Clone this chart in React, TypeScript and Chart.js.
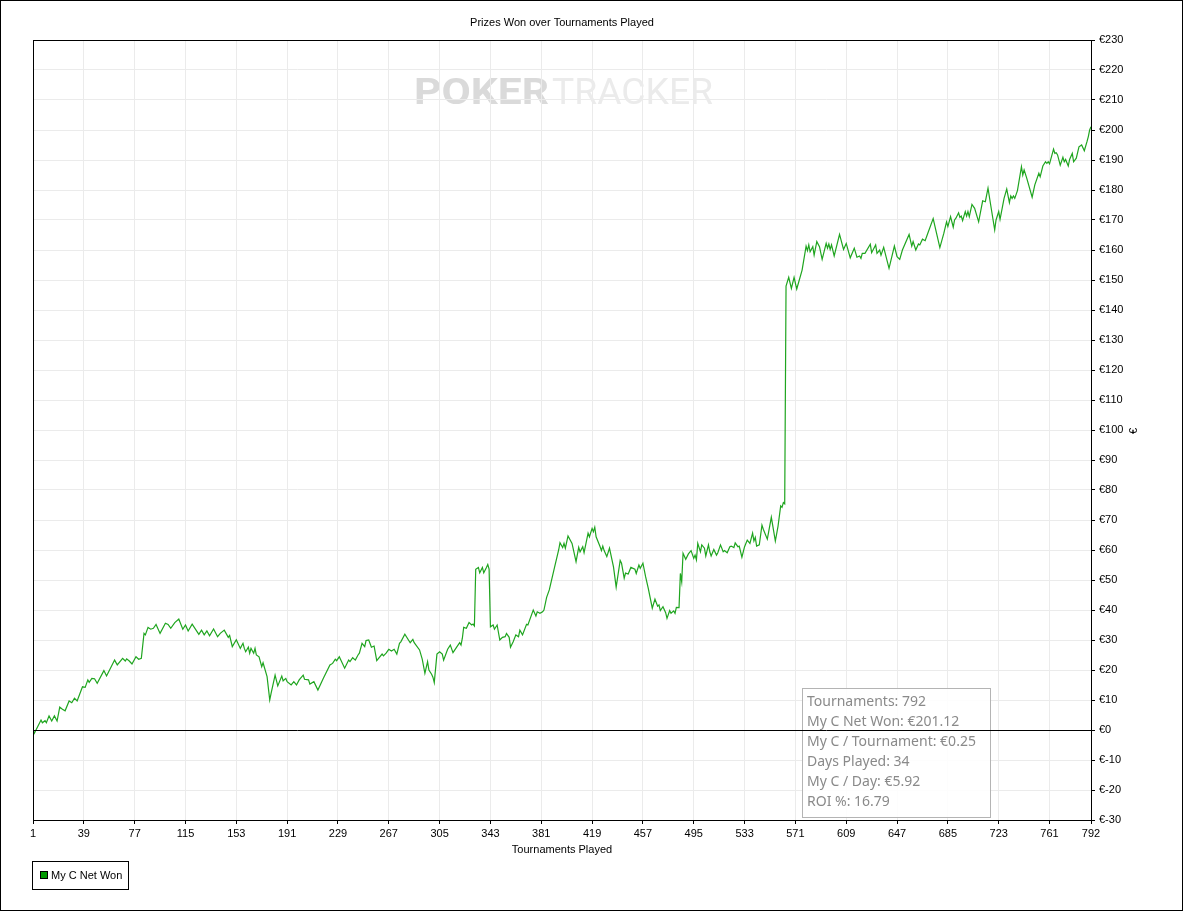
import React, { useEffect, useRef } from 'react';
import { Chart, registerables } from 'chart.js';

Chart.register(...registerables);

const chartTitle = 'Prizes Won over Tournaments Played';
const xAxisTitle = 'Tournaments Played';
const yAxisTitle = '€';
const seriesLabel = 'My C Net Won';
const currency = '€';

const xTickValues = [1, 39, 77, 115, 153, 191, 229, 267, 305, 343, 381, 419, 457, 495, 533, 571, 609, 647, 685, 723, 761, 792];
const yMin = -30;
const yMax = 230;
const yStep = 10;

const statsLines = [
  'Tournaments: 792',
  'My C Net Won: €201.12',
  'My C / Tournament: €0.25',
  'Days Played: 34',
  'My C / Day: €5.92',
  'ROI %: 16.79',
];

// [tournament number, cumulative net won in €]
const netWonEarly: [number, number][] = [
  [1, 0], [2, -1.1], [7, 3.3], [8, 2.4], [10, 3.1], [11, 2.4], [13, 4.7], [15, 3.0], [17, 4.7], [19, 3.0],
  [21, 7.6], [23, 6.9], [25, 6.4], [28, 9.7], [30, 9.1], [32, 10.6], [34, 9.7], [38, 14.4], [40, 14.2], [42, 16.7],
  [43, 15.9], [45, 17.2], [47, 17.1], [49, 15.6], [54, 19.8], [56, 18.0], [62, 23.3], [64, 21.7], [68, 23.9], [70, 23.0],
  [71, 23.7], [73, 23.0], [75, 22.0], [78, 24.4], [80, 23.6], [82, 23.9], [84, 32.2], [85, 31.7], [87, 34.2], [89, 33.6],
  [91, 33.9], [93, 35.2], [96, 32.2], [100, 35.6], [102, 35.2], [104, 33.9], [107, 35.8], [110, 37.0], [113, 33.6], [115, 35.0],
  [117, 33.0], [120, 35.3], [125, 31.9], [127, 33.3], [129, 31.7], [131, 33.0], [133, 31.4], [136, 33.7], [139, 31.1], [141, 32.2],
  [144, 33.3], [147, 30.9],
];

const netWonSecond: [number, number][] = [
  [148, 31.5], [150, 27.8], [153, 30.1], [156, 27.2], [158, 28.9], [159, 27.2], [160, 26.1], [162, 27.6], [163, 25.6], [164, 27.2],
  [166, 25.6], [167, 27.2], [168, 25.0], [170, 24.4], [172, 21.1], [173, 22.4], [176, 17.8], [178, 10.0], [179, 12.2], [182, 18.3],
  [184, 14.7], [187, 18.0], [188, 16.4], [190, 17.2], [191, 16.1], [194, 15.0], [196, 16.1], [198, 15.0], [200, 16.7], [203, 18.3],
  [204, 16.9], [207, 16.7], [208, 15.3], [211, 16.1], [214, 13.3], [218, 17.2], [223, 21.7], [225, 22.2], [227, 23.6], [228, 23.1],
  [230, 24.4], [234, 20.6], [237, 23.3], [238, 22.8], [240, 24.1], [242, 23.3], [244, 25.0], [245, 25.6], [247, 28.9], [249, 27.8],
  [250, 29.8], [252, 30.0], [254, 27.6], [256, 28.0], [258, 23.1], [262, 25.3], [263, 24.7], [265, 25.6], [267, 26.9], [269, 26.3],
  [271, 26.9], [273, 25.3], [275, 28.9], [276, 29.4], [279, 31.9], [283, 29.1], [285, 30.2], [286, 29.1], [290, 26.7], [292, 23.6],
  [294, 18.9], [296, 22.8], [297, 20.0], [299, 18.6], [300, 17.6], [301, 15.8], [303, 25.3], [305, 26.1], [307, 25.3], [308, 23.3],
  [311, 26.9], [313, 28.3], [315, 25.8], [318, 27.8], [320, 29.1], [321, 28.3], [322, 30.6], [323, 34.2], [325, 33.9], [327, 35.8],
  [329, 35.0], [330, 35.3], [331, 34.7],
];

const netWonThird: [number, number][] = [
  [332, 53.6], [334, 54.2], [335, 52.4], [337, 54.2], [338, 52.4], [340, 54.2], [341, 55.2], [342, 53.6], [343, 34.4], [345, 35.0],
  [346, 33.6], [348, 35.0], [350, 30.0], [352, 30.9], [354, 31.1], [355, 32.2], [357, 30.9], [358, 27.6], [360, 29.4], [362, 31.7],
  [364, 31.1], [365, 33.3], [367, 31.7], [370, 35.2], [371, 35.0], [375, 40.0], [377, 38.0], [378, 39.4], [380, 38.9], [382, 39.4],
  [383, 40.0], [385, 44.2], [387, 46.7], [391, 54.4], [394, 60.0], [395, 62.4], [397, 60.8], [398, 62.2], [399, 60.6], [401, 64.7],
  [404, 62.2], [407, 56.1], [409, 60.9], [410, 59.4], [412, 61.1], [413, 59.1], [416, 65.6], [417, 64.4], [419, 67.2], [420, 66.1],
  [421, 67.6], [422, 64.4], [425, 61.1], [426, 59.8], [427, 61.3], [428, 59.8], [430, 57.8], [432, 60.6], [435, 54.4], [437, 47.6],
  [440, 56.5], [441, 55.6], [443, 50.6], [444, 52.3], [446, 52.0], [448, 54.2], [451, 53.6], [452, 52.2], [454, 55.0], [455, 53.9],
  [457, 55.6], [459, 51.1], [461, 47.2], [464, 40.6], [466, 43.6], [468, 41.3], [469, 41.7], [470, 39.8], [472, 41.1], [474, 39.1],
  [475, 37.2], [477, 39.8], [478, 38.9], [480, 39.7], [481, 38.9], [482, 40.9], [484, 40.8], [485, 52.2], [486, 49.4], [487, 58.9],
  [489, 56.9], [491, 58.7], [493, 59.8], [495, 57.2], [496, 58.3], [497, 56.7], [498, 62.2], [500, 59.4], [501, 61.7], [503, 60.6],
  [504, 58.0], [506, 61.7], [507, 59.4], [508, 58.0], [510, 60.2], [512, 58.3], [513, 59.1], [515, 61.7], [517, 59.4], [518, 59.8],
  [520, 59.1], [522, 61.1], [523, 61.3], [525, 60.8], [526, 62.4], [528, 61.1], [529, 61.3], [531, 57.6], [533, 61.1], [535, 63.3],
  [537, 62.2], [539, 65.6], [540, 63.0], [541, 64.2], [542, 61.3], [544, 61.7], [546, 68.3], [547, 66.9], [550, 63.6], [553, 70.9],
  [554, 68.3], [556, 63.0], [558, 67.9], [560, 74.7], [561, 74.2], [562, 75.8], [563, 75.4],
];

const netWonLate: [number, number][] = [
  [564, 148.0], [566, 150.9], [568, 147.2], [570, 150.9], [572, 147.0], [576, 153.3], [579, 161.3], [580, 159.8], [581, 161.7], [582, 159.4],
  [584, 161.1], [585, 158.3], [587, 162.8], [589, 161.1], [591, 156.9], [594, 162.2], [595, 160.6], [596, 162.0], [597, 160.2], [598, 161.7],
  [600, 158.0], [604, 165.2], [607, 160.2], [609, 162.2], [612, 157.4], [615, 160.6], [617, 157.6], [619, 158.0], [620, 157.2], [621, 158.9],
  [623, 158.9], [627, 161.9], [628, 159.1], [631, 161.7], [632, 158.9], [634, 160.0], [635, 158.3], [637, 160.9], [641, 153.9], [645, 161.3],
  [647, 157.8], [649, 156.9], [651, 160.0], [656, 165.2], [658, 161.3], [659, 162.8], [661, 160.0], [663, 162.0], [664, 161.7], [666, 163.6],
  [668, 163.1], [670, 165.6], [674, 170.5], [679, 160.8], [682, 165.6], [684, 169.4], [685, 167.8], [687, 171.1], [689, 167.6], [690, 170.0],
  [691, 170.6], [693, 172.4], [694, 170.9], [695, 171.3], [696, 169.8], [698, 172.8], [699, 171.3], [700, 172.8], [701, 171.1], [703, 175.2],
  [705, 173.9], [708, 169.4], [711, 176.4], [713, 176.1], [715, 180.6], [717, 175.0], [720, 166.7], [721, 170.0], [723, 172.8], [724, 170.2],
  [727, 177.2], [729, 180.3], [731, 175.8], [732, 178.0], [733, 177.2], [734, 178.0], [735, 177.2], [737, 179.8], [740, 187.8], [741, 185.0],
  [742, 186.7], [744, 183.9], [748, 177.6], [750, 181.7], [753, 185.6], [754, 184.4], [756, 188.0], [758, 189.4], [759, 188.9], [760, 189.4],
  [761, 188.7], [764, 193.6], [765, 192.2], [766, 192.4], [767, 191.7], [769, 188.3], [771, 190.9], [772, 189.4], [773, 190.2], [775, 188.0],
  [776, 190.2], [778, 192.2], [779, 189.4], [781, 190.6], [783, 194.4], [785, 195.0], [787, 193.1], [789, 196.1], [790, 197.8], [791, 200.0],
  [792, 201.12],
];

const LINE_COLOR = '#1fa51f';
const LEGEND_COLOR = '#009900';
const GRID_COLOR = '#ebebeb';
const UI_FONT = '"Liberation Sans", Arial, sans-serif';

function drawFitted(ctx: CanvasRenderingContext2D, text: string, font: string, color: string, x: number, baseline: number, targetW: number) {
  ctx.save();
  ctx.font = font;
  const w = ctx.measureText(text).width || 1;
  ctx.translate(x, baseline);
  ctx.scale(targetW / w, 1);
  ctx.fillStyle = color;
  ctx.textAlign = 'left';
  ctx.textBaseline = 'alphabetic';
  ctx.fillText(text, 0, 0);
  ctx.restore();
}

const decorPlugin = {
  id: 'decor',
  beforeDraw(chart: any) {
    const { ctx, width, height } = chart;
    ctx.save();
    ctx.fillStyle = '#ffffff';
    ctx.fillRect(0, 0, width, height);
    ctx.restore();
    drawFitted(ctx, 'POKER', 'bold 36px Roboto', '#dadada', 414, 104, 135);
    drawFitted(ctx, 'TRACKER', '36px Roboto', '#ebebeb', 552, 104, 161);
  },
  afterDatasetsDraw(chart: any) {
    const { ctx, chartArea, scales } = chart;
    ctx.save();
    // statistics box
    const bx = 802, by = 688, bw = 188, bh = 129;
    ctx.fillStyle = 'rgba(255,255,255,0.88)';
    ctx.fillRect(bx, by, bw, bh);
    ctx.strokeStyle = '#b4b4b4';
    ctx.lineWidth = 1;
    ctx.strokeRect(bx + 0.5, by + 0.5, bw, bh);
    ctx.fillStyle = '#8a8a8a';
    ctx.font = '14px "Noto Sans", "DejaVu Sans", sans-serif';
    ctx.textAlign = 'left';
    ctx.textBaseline = 'middle';
    statsLines.forEach((line, i) => ctx.fillText(line, bx + 5, by + 14 + i * 20));
    // zero line
    const y0 = Math.round(scales.y.getPixelForValue(0)) + 0.5;
    ctx.strokeStyle = '#000';
    ctx.beginPath();
    ctx.moveTo(chartArea.left, y0);
    ctx.lineTo(chartArea.right, y0);
    ctx.stroke();
    ctx.restore();
  },
  afterDraw(chart: any) {
    const { ctx, chartArea, width, height } = chart;
    const { left, right, top, bottom } = chartArea;
    ctx.save();
    ctx.strokeStyle = '#000';
    ctx.lineWidth = 1;
    ctx.strokeRect(Math.round(left) + 0.5, Math.round(top) + 0.5, Math.round(right - left), Math.round(bottom - top));
    // outer border
    ctx.strokeRect(0.5, 0.5, width - 3, height - 1);

    ctx.fillStyle = '#000';
    ctx.font = '11px ' + UI_FONT;
    ctx.textAlign = 'center';
    ctx.textBaseline = 'middle';
    const cx = (left + right) / 2;
    ctx.fillText(chartTitle, cx, 22.5);
    ctx.fillText(xAxisTitle, cx, 849.5);

    // y axis title (rotated)
    ctx.save();
    ctx.translate(1134, 431);
    ctx.rotate(-Math.PI / 2);
    ctx.fillText(yAxisTitle, 0, 0);
    ctx.restore();

    // legend
    const ds = chart.data.datasets[0];
    ctx.strokeRect(32.5, 861.5, 96, 28);
    ctx.fillStyle = LEGEND_COLOR;
    ctx.fillRect(40, 871, 8, 8);
    ctx.strokeRect(40.5, 871.5, 7, 7);
    ctx.fillStyle = '#000';
    ctx.textAlign = 'left';
    ctx.fillText(ds.label, 51, 875.5);
    ctx.restore();
  },
};

export default function App() {
  const canvasRef = useRef<HTMLCanvasElement>(null);

  useEffect(() => {
    const canvas = canvasRef.current;
    if (!canvas) return;
    const points = [...netWonEarly, ...netWonSecond, ...netWonThird, ...netWonLate].map(([x, y]) => ({ x, y }));

    Chart.defaults.font.family = UI_FONT;
    Chart.defaults.font.size = 11;
    Chart.defaults.color = '#000';

    const chart = new Chart(canvas, {
      type: 'line',
      data: {
        datasets: [
          {
            label: seriesLabel,
            data: points,
            borderColor: LINE_COLOR,
            backgroundColor: LEGEND_COLOR,
            borderWidth: 1.2,
            pointRadius: 0,
            tension: 0,
            fill: false,
          },
        ],
      },
      options: {
        responsive: false,
        animation: false,
        devicePixelRatio: 1,
        layout: { padding: { left: 33, top: 40, right: 0, bottom: 0 } },
        plugins: {
          legend: { display: false },
          title: { display: false },
          tooltip: { enabled: false },
        },
        scales: {
          x: {
            type: 'linear',
            position: 'bottom',
            min: 1,
            max: 792,
            afterBuildTicks: (scale: any) => {
              scale.ticks = xTickValues.map((v) => ({ value: v }));
            },
            afterFit: (scale: any) => {
              scale.height = 91;
            },
            grid: { color: GRID_COLOR, tickColor: '#000', tickLength: 4, lineWidth: 1 },
            border: { color: '#000' },
            ticks: {
              autoSkip: false,
              maxRotation: 0,
              minRotation: 0,
              padding: 3,
              color: '#000',
              font: { family: UI_FONT, size: 11 },
              callback: (v: any) => String(v),
            },
          },
          y: {
            type: 'linear',
            position: 'right',
            min: yMin,
            max: yMax,
            afterFit: (scale: any) => {
              scale.width = 94;
            },
            grid: { color: GRID_COLOR, tickColor: '#000', tickLength: 4, lineWidth: 1 },
            border: { color: '#000' },
            ticks: {
              stepSize: yStep,
              autoSkip: false,
              padding: 4,
              color: '#000',
              font: { family: UI_FONT, size: 11 },
              callback: (v: any) => currency + v,
            },
          },
        },
      },
      plugins: [decorPlugin],
    });

    return () => chart.destroy();
  }, []);

  return (
    <div style={{ position: 'absolute', left: 0, top: 0, width: 1185, height: 911, background: '#fff' }}>
      <canvas ref={canvasRef} width={1185} height={911} style={{ display: 'block', width: 1185, height: 911 }} />
    </div>
  );
}
